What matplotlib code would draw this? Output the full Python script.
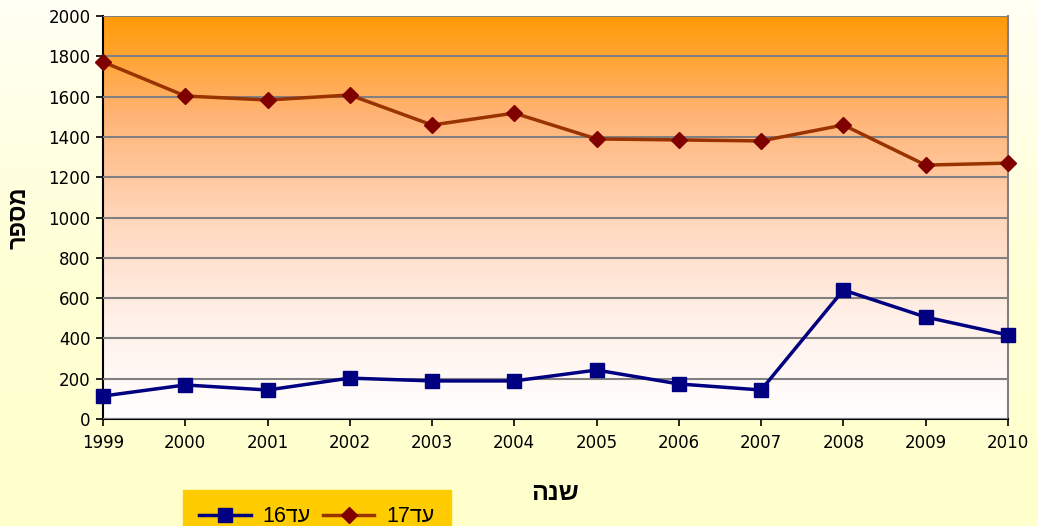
import matplotlib.pyplot as plt
import numpy as np
from matplotlib.colors import LinearSegmentedColormap

years = [1999, 2000, 2001, 2002, 2003, 2004, 2005, 2006, 2007, 2008, 2009, 2010]
upto16 = [114, 169, 144, 203, 189, 189, 243, 174, 144, 640, 506, 417]
upto17 = [1772, 1603, 1583, 1608, 1459, 1518, 1390, 1385, 1380, 1459, 1260, 1270]

# hebrew strings in visual (left-to-right) order, matplotlib has no bidi
label16 = "16" + "\u05D3\u05E2"
label17 = "17" + "\u05D3\u05E2"
xlabel = "\u05D4\u05E0\u05E9"
ylabel = "\u05E8\u05E4\u05E1\u05DE"

plt.rcParams['font.family'] = ['DejaVu Sans']
heb = ['Liberation Sans', 'DejaVu Sans']

fig = plt.figure(figsize=(10.38, 5.26), dpi=100)

# figure background: near white at top to light yellow at bottom
bg = fig.add_axes([0, 0, 1, 1], zorder=-10)
bg_cmap = LinearSegmentedColormap.from_list("bg", ["#FFFFCC", "#FFFFD6", "#FFFFF4"])
bg.imshow(np.linspace(0, 1, 256).reshape(-1, 1), aspect='auto', cmap=bg_cmap,
          origin='lower', extent=[0, 1, 0, 1])
bg.axis('off')

ax = fig.add_axes([0.0992, 0.2034, 0.8718, 0.7662])
ax.set_facecolor('none')

# plot area gradient: orange at top to white at bottom
grad_cmap = LinearSegmentedColormap.from_list(
    "pa", [(0, "#FFFFFF"), (0.25, "#FFF0E8"), (0.5, "#FFD6BA"),
           (0.75, "#FFB476"), (1, "#FF9A05")])
ax.imshow(np.linspace(0, 1, 256).reshape(-1, 1), aspect='auto', cmap=grad_cmap,
          origin='lower', extent=[1999, 2010, 0, 2000], zorder=0)

l16, = ax.plot(years, upto16, color='#000080', lw=2.5, marker='s', ms=10,
               mfc='#000080', mec='#000080', zorder=4, clip_on=False)
l17, = ax.plot(years, upto17, color='#993300', lw=2.5, marker='D', ms=8.5,
               mfc='#800000', mec='#800000', zorder=4, clip_on=False)

ax.set_xlim(1999, 2010)
ax.set_ylim(0, 2000)
ax.set_xticks(years)
ax.set_yticks(range(0, 2001, 200))
ax.yaxis.grid(True, color='#808080', lw=1.5)
ax.set_axisbelow(False)
for gl in ax.get_ygridlines():
    gl.set_zorder(2)

ax.spines['top'].set_visible(False)
ax.spines['right'].set_color('#808080')
ax.spines['right'].set_linewidth(1.5)
ax.spines['left'].set_color('black')
ax.spines['bottom'].set_color('black')
ax.spines['left'].set_linewidth(1.5)
ax.spines['bottom'].set_linewidth(1.5)
ax.tick_params(axis='both', direction='out', length=5, width=1.2, labelsize=12)
ax.tick_params(axis='x', pad=6)
ax.tick_params(axis='y', pad=4)

ax.set_xlabel(xlabel, fontsize=18, fontweight='bold', family=heb, labelpad=21)
ax.set_ylabel(ylabel, fontsize=17, fontweight='bold', family=heb, labelpad=13)

leg = fig.legend([l16, l17], [label16, label17], loc='upper left',
                 bbox_to_anchor=(183 / 1038, 1 - 490 / 526), ncol=2,
                 prop={'family': heb, 'size': 15.5},
                 frameon=True, fancybox=False, handlelength=2.4,
                 handletextpad=0.55, columnspacing=0.55, borderpad=0.75,
                 borderaxespad=0)
leg.get_frame().set_facecolor('#FFCC00')
leg.get_frame().set_edgecolor('#FFCC00')
leg.get_frame().set_alpha(1)

fig.savefig("out.png", dpi=100)
